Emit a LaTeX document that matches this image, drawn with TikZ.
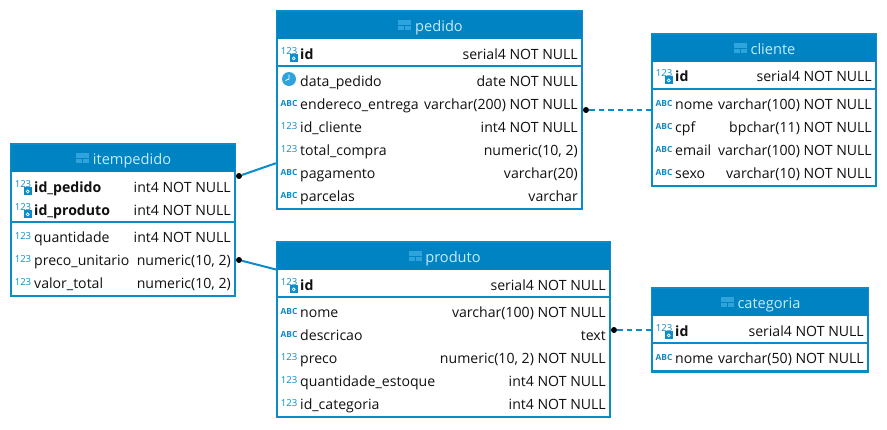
\documentclass[tikz,border=0pt]{standalone}
\usepackage{fontspec}
\setmainfont{Open Sans}
\usepackage{xcolor}
\usetikzlibrary{positioning}
\definecolor{dbline}{HTML}{0A8CCB}
\definecolor{dbhead}{HTML}{0083C3}
\definecolor{dbicon}{HTML}{2FA3DC}
\definecolor{dbtitle}{HTML}{C8ECFF}
\definecolor{dbtext}{HTML}{101010}
\tikzstyle{tablebox} = [rectangle, draw=dbline, line width=2.2pt, fill=white, inner sep=0pt]
\tikzstyle{tablehead} = [rectangle, fill=dbhead, inner sep=0pt, minimum height=27pt]
\tikzstyle{tabletitle} = [anchor=base, text=dbtitle, font=\fontsize{14.6}{17}\selectfont, inner sep=0pt]
\tikzstyle{tableicon} = [rectangle, fill=dbicon, inner sep=0pt, minimum width=13pt, minimum height=10pt,
path picture={
\draw [dbhead, line width=0.8pt] (path picture bounding box.west) -- (path picture bounding box.east);
\draw [dbhead, line width=0.8pt] (path picture bounding box.center) -- (path picture bounding box.south);
}]
\tikzstyle{rowline} = [draw=dbline, line width=1.2pt]
\tikzstyle{plainname} = [anchor=base west, text=dbtext, inner sep=0pt, font=\fontsize{14.1}{16}\selectfont]
\tikzstyle{boldname} = [plainname, font=\fontsize{14.1}{16}\selectfont\bfseries]
\tikzstyle{typename} = [anchor=base east, text=dbtext, inner sep=0pt, font=\fontsize{14.1}{16}\selectfont]
\tikzstyle{iconnum} = [text=dbline, inner sep=0pt, font=\fontsize{9.6}{9}\selectfont]
\tikzstyle{iconabc} = [text=dbline, inner sep=0pt, font=\fontsize{8.4}{9}\selectfont\bfseries]
\tikzstyle{iconkey} = [iconnum, yshift=1.5pt, label={[keybox, anchor=north east, yshift=1pt, xshift=0.5pt]south east:{}}]
\tikzstyle{keybox} = [rectangle, fill=dbline, inner sep=0pt, minimum size=8pt,
path picture={\draw [white, line width=0.7pt] (path picture bounding box.center) circle (1.5pt);}]
\tikzstyle{iconclock} = [circle, fill=dbicon, inner sep=0pt, minimum size=14pt, yshift=1pt,
path picture={\draw [white, line width=0.8pt] (path picture bounding box.center) -- ++(0,4.5pt) (path picture bounding box.center) -- ++(-3.5pt,-1.5pt);}]
\tikzstyle{fkdot} = [circle, fill=black, inner sep=0pt, minimum size=6pt]
\tikzstyle{fkline} = [draw=dbline, line width=2pt]
\tikzstyle{softline} = [fkline, dash pattern=on 5.5pt off 4pt]

\begin{document}
\begin{tikzpicture}[x=1pt, y=-1pt]
        \useasboundingbox (0,0) rectangle (887,429);

        % pedido
        \node (pedido) [tablebox, minimum width=305pt, minimum height=198pt] at (429.5,110) {};
        \node (pedidohead) [tablehead, minimum width=305pt] at (429.5,25) {};
        \node (pedidotitle) [tabletitle] at (439,31) {pedido};
        \node (pedidoicon) [tableicon, at={(404.5,25)}] {};
        \draw [rowline] (pedido.west |- 0,66) -- (pedido.east |- 0,66);
        \foreach \row/\ic/\itxt/\st/\cname/\ctype in {
            54/iconkey/123/boldname/id/{serial4 NOT NULL},
            81/iconclock//plainname/data\_pedido/{date NOT NULL},
            104/iconabc/ABC/plainname/endereco\_entrega/{varchar(200) NOT NULL},
            127/iconnum/123/plainname/id\_cliente/{int4 NOT NULL},
            150/iconnum/123/plainname/total\_compra/{numeric(10, 2)},
            173/iconabc/ABC/plainname/pagamento/{varchar(20)},
            196/iconabc/ABC/plainname/parcelas/{varchar}} {
            \node (pedidoi\row) [\ic] at (289,\row-1) {\itxt};
            \node (pedidon\row) [\st] at (300,\row+5.5) {\cname};
            \node (pedidot\row) [typename] at (578,\row+5.5) {\ctype};
        }

        % cliente
        \node (cliente) [tablebox, minimum width=224pt, minimum height=152pt] at (764,110) {};
        \node (clientehead) [tablehead, minimum width=224pt] at (764,48) {};
        \node (clientetitle) [tabletitle] at (773,54) {cliente};
        \node (clienteicon) [tableicon, at={(740,48)}] {};
        \draw [rowline] (cliente.west |- 0,89) -- (cliente.east |- 0,89);
        \foreach \row/\ic/\itxt/\st/\cname/\ctype in {
            76/iconkey/123/boldname/id/{serial4 NOT NULL},
            104/iconabc/ABC/plainname/nome/{varchar(100) NOT NULL},
            127/iconabc/ABC/plainname/cpf/{bpchar(11) NOT NULL},
            150/iconabc/ABC/plainname/email/{varchar(100) NOT NULL},
            173/iconabc/ABC/plainname/sexo/{varchar(10) NOT NULL}} {
            \node (clientei\row) [\ic] at (664,\row-1) {\itxt};
            \node (clienten\row) [\st] at (675,\row+5.5) {\cname};
            \node (clientet\row) [typename] at (872,\row+5.5) {\ctype};
        }

        % itempedido
        \node (itempedido) [tablebox, minimum width=224pt, minimum height=152pt] at (123,220) {};
        \node (itempedidohead) [tablehead, minimum width=224pt] at (123,158) {};
        \node (itempedidotitle) [tabletitle] at (132,164) {itempedido};
        \node (itempedidoicon) [tableicon, at={(82,158)}] {};
        \draw [rowline] (itempedido.west |- 0,222) -- (itempedido.east |- 0,222);
        \foreach \row/\ic/\itxt/\st/\cname/\ctype in {
            187/iconkey/123/boldname/id\_pedido/{int4 NOT NULL},
            210/iconkey/123/boldname/id\_produto/{int4 NOT NULL},
            237/iconnum/123/plainname/quantidade/{int4 NOT NULL},
            260/iconnum/123/plainname/preco\_unitario/{numeric(10, 2)},
            283/iconnum/123/plainname/valor\_total/{numeric(10, 2)}} {
            \node (itempedidoi\row) [\ic] at (23,\row-1) {\itxt};
            \node (itempedidon\row) [\st] at (34,\row+5.5) {\cname};
            \node (itempedidot\row) [typename] at (231,\row+5.5) {\ctype};
        }

        % produto
        \node (produto) [tablebox, minimum width=333pt, minimum height=175pt] at (443.5,329.5) {};
        \node (produtohead) [tablehead, minimum width=333pt] at (443.5,256) {};
        \node (produtotitle) [tabletitle] at (453,262) {produto};
        \node (produtoicon) [tableicon, at={(415,256)}] {};
        \draw [rowline] (produto.west |- 0,297) -- (produto.east |- 0,297);
        \foreach \row/\ic/\itxt/\st/\cname/\ctype in {
            285/iconkey/123/boldname/id/{serial4 NOT NULL},
            312/iconabc/ABC/plainname/nome/{varchar(100) NOT NULL},
            335/iconabc/ABC/plainname/descricao/{text},
            358/iconnum/123/plainname/preco/{numeric(10, 2) NOT NULL},
            381/iconnum/123/plainname/quantidade\_estoque/{int4 NOT NULL},
            404/iconnum/123/plainname/id\_categoria/{int4 NOT NULL}} {
            \node (produtoi\row) [\ic] at (289,\row-1) {\itxt};
            \node (produton\row) [\st] at (300,\row+5.5) {\cname};
            \node (produtot\row) [typename] at (606,\row+5.5) {\ctype};
        }

        % categoria
        \node (categoria) [tablebox, minimum width=216pt, minimum height=83pt] at (760,330) {};
        \node (categoriahead) [tablehead, minimum width=216pt] at (760,302) {};
        \node (categoriatitle) [tabletitle] at (769,308) {categoria};
        \node (categoriaicon) [tableicon, at={(727,302)}] {};
        \draw [rowline] (categoria.west |- 0,343) -- (categoria.east |- 0,343);
        \foreach \row/\ic/\itxt/\st/\cname/\ctype in {
            331/iconkey/123/boldname/id/{serial4 NOT NULL},
            358/iconabc/ABC/plainname/nome/{varchar(50) NOT NULL}} {
            \node (categoriai\row) [\ic] at (664,\row-1) {\itxt};
            \node (categorian\row) [\st] at (675,\row+5.5) {\cname};
            \node (categoriat\row) [typename] at (864,\row+5.5) {\ctype};
        }

        % ligacoes
        \node (dotpedido) [fkdot] at (239,176) {};
        \node (dotproduto) [fkdot] at (239,260) {};
        \node (dotcliente) [fkdot] at (586,110) {};
        \node (dotcategoria) [fkdot] at (614,330) {};
        \draw [fkline] (dotpedido) -- (pedido);
        \draw [fkline] (dotproduto) -- (produtohead.south west);
        \draw [softline] (dotcliente) -- (cliente);
        \draw [softline] (dotcategoria) -- (categoria);

    \end{tikzpicture}
\end{document}
